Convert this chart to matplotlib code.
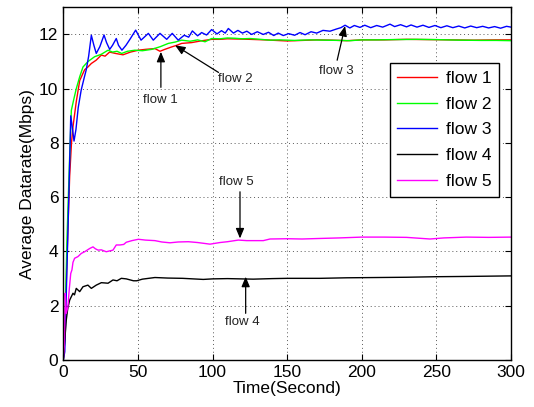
import matplotlib
matplotlib.use('Agg')
import matplotlib.pyplot as plt

plt.rcParams['font.family'] = ['Liberation Sans', 'DejaVu Sans']

# flow 1 (red)
t1 = [0, 1, 2.5, 4.3, 5.5, 6.5, 8.7, 11, 14.3, 16.5, 18.8, 22, 25.5, 28, 31, 35, 40, 45, 50.3, 55,
      61.4, 64.8, 68, 72.6, 76, 79.3, 86, 92, 99.4, 105, 110, 118, 125, 135, 150, 160, 170, 180,
      190, 200, 215, 230, 245, 260, 275, 290, 300]
y1 = [0, 0.8, 3.8, 6.8, 8.0, 8.6, 9.52, 10.3, 10.7, 10.8, 10.93, 11.05, 11.24, 11.2, 11.35, 11.3,
      11.25, 11.35, 11.42, 11.45, 11.48, 11.38, 11.45, 11.54, 11.6, 11.67, 11.7, 11.76, 11.82, 11.82,
      11.84, 11.83, 11.82, 11.8, 11.76, 11.78, 11.8, 11.79, 11.77, 11.8, 11.8, 11.82, 11.81, 11.8,
      11.79, 11.8, 11.8]

# flow 2 (green)
t2 = [0, 1, 2.5, 4.2, 5.4, 7, 8.7, 11, 13.2, 16.5, 19, 21, 25.5, 30, 33, 36, 39.1, 43, 48, 53,
      59.2, 65, 70.4, 75, 79.3, 85, 90, 95, 99.4, 105, 110, 115, 120, 125, 132, 138.5, 145, 155,
      165, 175, 185, 192, 200, 210, 220, 236.8, 250, 265, 280, 290, 300]
y2 = [0, 1.0, 4.5, 7.4, 9.2, 9.6, 10.0, 10.44, 10.8, 11.0, 11.1, 11.18, 11.27, 11.42, 11.35, 11.38,
      11.3, 11.38, 11.42, 11.4, 11.45, 11.55, 11.67, 11.72, 11.79, 11.75, 11.8, 11.73, 11.85, 11.84,
      11.87, 11.86, 11.84, 11.85, 11.82, 11.79, 11.8, 11.78, 11.8, 11.79, 11.78, 11.77, 11.8, 11.8,
      11.81, 11.82, 11.81, 11.79, 11.78, 11.78, 11.77]

# flow 3 (blue)
t3 = [0, 1, 3, 4.6, 5, 6, 7.2, 8.5, 10, 12, 14, 15.4, 17, 18.8, 20.5, 22.1, 24.5, 27.3, 29, 31.1,
      33, 35.5, 37, 39.3, 42, 45, 48.5, 52.1, 57, 60.3, 64.8, 69.3, 73, 77, 81, 84, 86.5, 90, 92.7,
      96, 99.4, 103, 106, 108.5, 110.6, 114, 117, 120, 123, 126.2, 130, 134, 137.5, 141, 144, 147.4,
      151, 155, 158.6, 162, 166, 169.8, 174, 178.7, 183, 186, 188.8, 192, 195, 198.8, 202, 206, 210,
      214, 218.9, 222, 226, 230, 233, 237, 241, 245, 249, 253, 257, 261, 265, 269, 273, 277, 281,
      285, 289, 293, 297, 300]
y3 = [0, 0.3, 4.5, 8.0, 9.0, 8.6, 8.07, 8.5, 9.3, 9.95, 10.4, 10.7, 11.2, 11.97, 11.6, 11.3, 11.55,
      11.98, 11.7, 11.45, 11.6, 11.85, 11.6, 11.42, 11.6, 11.85, 12.16, 11.79, 12.04, 11.79, 12.04,
      11.82, 12.04, 11.79, 11.97, 11.9, 12.13, 11.95, 12.07, 11.98, 12.18, 12.02, 12.14, 12.05,
      12.22, 12.05, 12.15, 12.05, 12.12, 12.0, 12.1, 12.0, 12.08, 11.96, 12.05, 11.96, 12.03, 11.97,
      12.07, 11.99, 12.1, 12.05, 12.15, 12.12, 12.2, 12.25, 12.34, 12.24, 12.33, 12.26, 12.34, 12.25,
      12.33, 12.27, 12.38, 12.29, 12.36, 12.28, 12.35, 12.27, 12.34, 12.26, 12.33, 12.25, 12.32,
      12.25, 12.31, 12.24, 12.31, 12.25, 12.3, 12.24, 12.29, 12.23, 12.3, 12.27]

# flow 4 (black)
t4 = [0, 0.7, 2, 3, 4.3, 6.5, 7.5, 8.7, 11, 13.2, 16.5, 18.8, 22.1, 25.5, 30, 33.3, 36, 38.9, 42.2,
      47, 49.2, 53, 61.4, 70, 80, 93.8, 100, 110, 127.3, 140, 150, 172, 190, 210, 230, 250, 270,
      285, 300]
y4 = [0, 0.5, 1.47, 1.9, 2.21, 2.46, 2.4, 2.64, 2.52, 2.7, 2.76, 2.64, 2.76, 2.85, 2.83, 2.95, 2.92,
      3.01, 2.99, 2.92, 2.92, 2.98, 3.04, 3.02, 3.01, 2.97, 2.99, 3.0, 2.98, 3.0, 3.01, 3.01, 3.03,
      3.04, 3.05, 3.07, 3.08, 3.09, 3.1]

# flow 5 (magenta)
t5 = [0, 0.7, 1.3, 2, 3.1, 4, 5, 5.8, 6.5, 7.6, 9.8, 12.1, 14.3, 16, 17.7, 19.9, 21.5, 23.3, 25.5,
      28.8, 31, 33.3, 35.5, 38, 40.5, 42.2, 46, 50.3, 55, 61.4, 66, 71.5, 77, 83.8, 90, 98.3, 105,
      110, 117.3, 122.9, 130, 134, 138.5, 150, 160, 172, 185, 200, 215, 230, 245.7, 255, 270, 285, 300]
y5 = [0, 0.5, 2.46, 1.72, 1.96, 2.6, 3.19, 3.32, 3.6, 3.75, 3.81, 3.93, 3.99, 4.05, 4.11, 4.17, 4.1,
      4.05, 4.06, 3.99, 4.02, 4.05, 4.24, 4.24, 4.26, 4.34, 4.4, 4.45, 4.42, 4.4, 4.35, 4.32, 4.35,
      4.36, 4.33, 4.27, 4.33, 4.36, 4.42, 4.4, 4.4, 4.4, 4.46, 4.47, 4.46, 4.48, 4.5, 4.53, 4.53,
      4.52, 4.46, 4.5, 4.53, 4.52, 4.53]

# annotations: label, text position, arrow tail, arrow tip
ann_labels = ['flow 1', 'flow 2', 'flow 3', 'flow 5', 'flow 4']
ann_text = [(65, 9.58), (115, 10.35), (182.8, 10.65), (115.8, 6.56), (119.7, 1.4)]
ann_tail = [(65.4, 10.05), (104, 10.6), (183.5, 11.05), (118.4, 6.2), (122.2, 1.72)]
ann_tip = [(65.4, 11.36), (74.9, 11.6), (188.8, 12.31), (118.4, 4.48), (122.2, 3.07)]

fig = plt.figure(figsize=(5.34, 4.07), dpi=100)
ax = fig.add_axes([0.1185, 0.1155, 0.8385, 0.8665])

ax.plot(t1, y1, color='#ff0000', lw=1.0, label='flow 1')
ax.plot(t2, y2, color='#00ff00', lw=1.0, label='flow 2')
ax.plot(t3, y3, color='#0000ff', lw=1.0, label='flow 3')
ax.plot(t4, y4, color='black', lw=1.0, label='flow 4')
ax.plot(t5, y5, color='#ff00ff', lw=1.0, label='flow 5')

for lab, tp, tl, tip in zip(ann_labels, ann_text, ann_tail, ann_tip):
    ax.annotate('', xy=tip, xytext=tl,
                arrowprops=dict(arrowstyle='-|>,head_length=0.6,head_width=0.25',
                                color='black', lw=0.9, shrinkA=0, shrinkB=0))
    ax.text(tp[0], tp[1], lab, fontsize=9.5, ha='center', va='center', color='#222222')

ax.set_xlim(0, 300)
ax.set_ylim(0, 13)
ax.set_xticks(range(0, 301, 50))
ax.set_yticks(range(0, 13, 2))
ax.tick_params(direction='in', top=True, right=True, length=4, labelsize=12.5, width=0.8)
ax.grid(True, linestyle=(0, (1, 3)), color='0.35', lw=0.7)
for s in ax.spines.values():
    s.set_linewidth(1.0)

ax.set_xlabel('Time(Second)', fontsize=12.5, labelpad=1)
ax.set_ylabel('Average Datarate(Mbps)', fontsize=12.5, labelpad=3)

leg = ax.legend(loc='upper right', bbox_to_anchor=(0.974, 0.843), fontsize=12.5,
                fancybox=False, edgecolor='black', framealpha=1, borderaxespad=0,
                handlelength=2.3, labelspacing=0.62, borderpad=0.45, handletextpad=0.5)
leg.get_frame().set_linewidth(1.0)

fig.savefig('out.png', dpi=100)
